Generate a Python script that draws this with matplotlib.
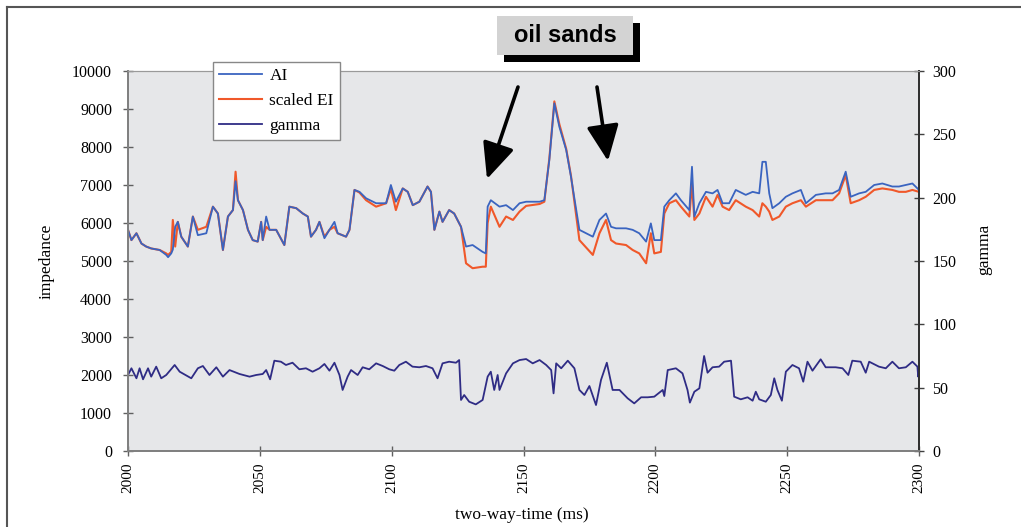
import matplotlib
matplotlib.use("Agg")
import matplotlib.pyplot as plt
from matplotlib.patches import Rectangle
from matplotlib.lines import Line2D

# two-way-time samples (ms) for the impedance curves
t_imp = [2000.0, 2001.3, 2003.2, 2005.1, 2006.9, 2008.8, 2012.0, 2014.5, 2015.2, 2016.4,
         2017.0, 2017.9, 2018.9, 2020.2, 2022.7, 2024.6, 2026.5, 2029.7, 2032.2, 2034.1,
         2036.0, 2037.9, 2039.8, 2040.8, 2041.7, 2043.6, 2045.5, 2047.3, 2049.2, 2050.5,
         2051.1, 2052.4, 2053.7, 2056.2, 2059.3, 2061.2, 2063.8, 2066.3, 2068.2, 2069.4,
         2071.3, 2072.6, 2074.5, 2076.4, 2078.3, 2079.5, 2082.7, 2084.0, 2085.9, 2087.8,
         2090.3, 2094.1, 2097.9, 2099.7, 2101.6, 2104.2, 2106.1, 2108.0, 2110.5, 2113.6,
         2114.9, 2116.2, 2118.1, 2119.3, 2121.8, 2123.7, 2126.3, 2128.2, 2130.7, 2134.5,
         2135.7, 2136.4, 2137.6, 2140.9, 2143.4, 2146.0, 2148.5, 2151.0, 2156.1, 2157.9,
         2159.8, 2161.7, 2163.6, 2166.2, 2168.0, 2171.2, 2176.3, 2178.8, 2181.3, 2183.2,
         2185.1, 2188.9, 2191.4, 2193.9, 2196.5, 2198.3, 2199.6, 2202.1, 2203.4, 2205.3,
         2207.8, 2209.7, 2212.9, 2213.9, 2214.8, 2216.7, 2219.2, 2221.7, 2223.6, 2225.5,
         2228.0, 2230.5, 2234.3, 2236.9, 2239.4, 2240.6, 2241.9, 2243.2, 2244.4, 2247.0,
         2249.5, 2252.0, 2255.2, 2257.1, 2260.9, 2264.6, 2267.2, 2269.7, 2272.2, 2274.1,
         2277.3, 2279.8, 2283.0, 2286.1, 2289.9, 2292.4, 2295.0, 2297.5, 2300.0]

ai = [5820, 5550, 5730, 5460, 5380, 5330, 5290, 5160, 5100, 5200,
      5300, 5900, 6030, 5640, 5380, 6170, 5680, 5730, 6430, 6250,
      5290, 6170, 6340, 7100, 6600, 6340, 5820, 5550, 5510, 6030,
      5550, 6170, 5820, 5820, 5420, 6430, 6390, 6250, 6170, 5640,
      5820, 6030, 5600, 5820, 6030, 5730, 5640, 5820, 6870, 6820,
      6650, 6520, 6520, 7000, 6560, 6910, 6820, 6470, 6560, 6960,
      6820, 5820, 6300, 6030, 6340, 6250, 5900, 5380, 5420, 5240,
      5200, 6430, 6600, 6430, 6470, 6340, 6520, 6560, 6560, 6600,
      7660, 9150, 8530, 7920, 7220, 5820, 5640, 6080, 6250, 5900,
      5860, 5860, 5820, 5730, 5510, 5990, 5550, 5550, 6430, 6600,
      6780, 6600, 6340, 7480, 6170, 6520, 6820, 6780, 6870, 6520,
      6520, 6870, 6740, 6820, 6780, 7610, 7610, 6780, 6390, 6520,
      6690, 6780, 6870, 6520, 6740, 6780, 6780, 6870, 7350, 6690,
      6780, 6820, 7000, 7040, 6960, 6960, 7000, 7040, 6870]

scaled_ei = [5820, 5550, 5730, 5460, 5380, 5330, 5290, 5200, 5160, 5240,
             6080, 5380, 6030, 5640, 5380, 6170, 5820, 5900, 6430, 6250,
             5290, 6170, 6340, 7350, 6600, 6340, 5820, 5550, 5510, 6030,
             5550, 5900, 5820, 5820, 5420, 6430, 6390, 6250, 6170, 5640,
             5820, 6030, 5640, 5820, 5900, 5730, 5640, 5820, 6870, 6800,
             6600, 6430, 6520, 6900, 6340, 6910, 6820, 6470, 6560, 6960,
             6820, 5820, 6300, 6030, 6340, 6250, 5900, 4940, 4810, 4850,
             4850, 6000, 6430, 5900, 6170, 6080, 6300, 6450, 6500, 6560,
             7700, 9200, 8600, 7950, 7250, 5550, 5160, 5730, 6080, 5550,
             5460, 5420, 5290, 5200, 4940, 5730, 5200, 5240, 6250, 6520,
             6600, 6430, 6170, 7040, 6080, 6250, 6690, 6430, 6740, 6430,
             6340, 6600, 6430, 6340, 6170, 6520, 6430, 6300, 6080, 6170,
             6430, 6520, 6600, 6430, 6600, 6600, 6600, 6780, 7260, 6520,
             6600, 6690, 6870, 6910, 6870, 6820, 6820, 6870, 6820]

# gamma log (right axis)
t_gam = [2000.0, 2001.3, 2003.2, 2004.4, 2005.7, 2007.6, 2008.8, 2010.7, 2012.6, 2014.5,
         2017.7, 2019.6, 2024.0, 2026.5, 2028.4, 2030.9, 2033.5, 2036.0, 2038.5, 2042.3,
         2046.1, 2048.6, 2051.1, 2052.4, 2053.9, 2055.5, 2058.0, 2059.9, 2062.4, 2065.0,
         2067.5, 2070.0, 2072.6, 2074.5, 2076.4, 2078.3, 2080.2, 2081.4, 2083.3, 2084.6,
         2087.1, 2089.0, 2091.5, 2094.1, 2096.6, 2099.1, 2101.0, 2102.9, 2105.4, 2107.9,
         2110.5, 2113.0, 2115.5, 2117.4, 2119.3, 2121.8, 2124.4, 2125.6, 2126.3, 2127.5,
         2129.4, 2131.9, 2134.5, 2136.4, 2137.6, 2138.9, 2140.2, 2140.9, 2143.4, 2146.0,
         2148.5, 2151.0, 2153.5, 2156.1, 2158.6, 2160.5, 2161.4, 2162.4, 2164.3, 2166.8,
         2169.3, 2171.2, 2173.1, 2175.0, 2177.5, 2179.4, 2181.6, 2183.8, 2186.4, 2189.5,
         2192.0, 2194.6, 2197.1, 2199.6, 2202.8, 2203.4, 2204.7, 2207.8, 2210.3, 2212.2,
         2213.1, 2214.8, 2216.7, 2218.5, 2219.8, 2221.7, 2224.2, 2226.1, 2228.7, 2229.9,
         2232.4, 2235.0, 2236.9, 2238.1, 2239.4, 2241.9, 2243.8, 2245.1, 2246.3, 2248.0,
         2249.5, 2252.0, 2254.5, 2256.1, 2257.7, 2259.6, 2262.7, 2264.6, 2268.4, 2271.0,
         2273.2, 2274.7, 2277.9, 2279.8, 2281.1, 2284.8, 2287.4, 2289.9, 2292.4, 2295.0,
         2297.5, 2299.4, 2299.7, 2300.0]

gamma = [60.0, 65.3, 57.4, 65.3, 56.6, 65.3, 58.7, 66.6, 57.4, 60.0,
         67.9, 62.6, 57.4, 65.3, 67.1, 60.0, 66.1, 58.7, 63.9, 60.8,
         58.7, 60.0, 60.8, 63.9, 56.6, 71.3, 70.5, 67.9, 69.7, 64.5,
         65.3, 62.6, 65.3, 68.7, 63.4, 69.7, 60.0, 48.2, 58.7, 63.9,
         60.0, 66.1, 64.5, 69.2, 67.1, 64.5, 63.4, 67.9, 70.5, 66.6,
         66.1, 67.1, 65.3, 57.4, 69.2, 70.5, 69.7, 71.8, 40.3, 44.2,
         38.9, 36.8, 40.3, 58.7, 62.6, 48.2, 60.0, 48.2, 61.3, 69.2,
         71.8, 72.6, 69.2, 71.8, 67.9, 63.9, 45.5, 69.2, 65.3, 71.3,
         65.3, 48.2, 44.2, 51.3, 36.3, 56.1, 69.7, 48.2, 48.2, 41.6,
         37.6, 42.4, 42.4, 42.9, 48.2, 43.4, 63.9, 65.3, 61.3, 48.2,
         38.2, 46.8, 49.5, 75.0, 61.8, 66.1, 66.6, 70.5, 71.3, 42.9,
         40.8, 42.4, 39.7, 46.8, 40.8, 38.9, 44.2, 57.4, 48.2, 39.7,
         62.6, 67.9, 65.3, 54.7, 70.5, 63.4, 72.4, 66.1, 66.1, 65.3,
         60.0, 71.3, 70.5, 61.8, 70.5, 66.6, 65.3, 70.5, 65.3, 66.1,
         70.5, 66.6, 58.7, 63.9]

x_ticks = [2000, 2050, 2100, 2150, 2200, 2250, 2300]
imp_ticks = list(range(0, 10001, 1000))
gam_ticks = list(range(0, 301, 50))

c_ai = "#3a64c0"
c_ei = "#f0582a"
c_gam = "#2f2c85"
serif = "Liberation Serif"

fig = plt.figure(figsize=(10.21, 5.27), dpi=100)
ax = fig.add_axes([128 / 1021, 1 - 451 / 527, 791 / 1021, 380 / 527])
ax.set_facecolor("#e6e7e9")

l_ai, = ax.plot(t_imp, ai, color=c_ai, lw=1.3, label="AI", zorder=3)
l_ei, = ax.plot(t_imp, scaled_ei, color=c_ei, lw=1.5, label="scaled EI", zorder=2)
ax.set_xlim(2000, 2300)
ax.set_ylim(0, 10000)
ax.set_xticks(x_ticks)
ax.set_yticks(imp_ticks)
ax.set_xticklabels([str(v) for v in x_ticks], rotation=90, family=serif, fontsize=11)
ax.set_yticklabels([str(v) for v in imp_ticks], family=serif, fontsize=11.5)
ax.tick_params(axis="both", direction="inout", length=7, width=1, color="#606060")
ax.tick_params(axis="y", pad=8)
ax.tick_params(axis="x", pad=5)

ax2 = ax.twinx()
l_gam, = ax2.plot(t_gam, gamma, color=c_gam, lw=1.3, label="gamma")
ax2.set_ylim(0, 300)
ax2.set_yticks(gam_ticks)
ax2.set_yticklabels([str(v) for v in gam_ticks], family=serif, fontsize=11.5)
ax2.tick_params(axis="y", direction="inout", length=7, width=1, color="#404040", pad=6)

for a in (ax, ax2):
    a.spines["left"].set_color("#808080")
    a.spines["bottom"].set_color("#808080")
    a.spines["top"].set_color("#9a9a9a")
    a.spines["right"].set_color("#303030")
    a.spines["left"].set_linewidth(1.3)
    a.spines["bottom"].set_linewidth(1.3)
    a.spines["right"].set_linewidth(1.3)

ax.set_ylabel("impedance", family=serif, fontsize=12.5)
ax.yaxis.set_label_coords(-0.093, 0.5)
ax2.set_ylabel("gamma", family=serif, fontsize=12.5, rotation=90)
ax2.yaxis.set_label_coords(1.073, 0.53)
ax.set_xlabel("two-way-time (ms)", family=serif, fontsize=12.5)
ax.xaxis.set_label_coords(0.498, -0.147)

leg = fig.legend(handles=[l_ai, l_ei, l_gam], loc="upper left",
                 bbox_to_anchor=(213 / 1021, 1 - 62 / 527),
                 prop={"family": serif, "size": 12.5}, fancybox=False, framealpha=1,
                 edgecolor="#888888", handlelength=2.5, handletextpad=0.4,
                 labelspacing=0.5, borderpad=0.35, borderaxespad=0)
leg.get_frame().set_linewidth(1.0)
leg.set_zorder(10)

# "oil sands" label box with drop shadow
bx, by, bw, bh = 497 / 1021, 1 - 55 / 527, 136 / 1021, 39 / 527
fig.patches.append(Rectangle((bx + 7 / 1021, by - 7 / 527), bw, bh, transform=fig.transFigure,
                             facecolor="black", edgecolor="none", zorder=5))
fig.patches.append(Rectangle((bx, by), bw, bh, transform=fig.transFigure,
                             facecolor="#d3d3d3", edgecolor="none", zorder=6))
fig.text(565 / 1021, 1 - 36 / 527, "oil sands", ha="center", va="center",
         family="Liberation Sans", fontweight="bold", fontsize=17, zorder=7)

# arrows pointing at the oil sands intervals
for (x0, y0), (x1, y1) in [((518, 87), (487, 179)), ((597, 87), (608, 161))]:
    fig.add_artist(plt.Annotation("", xy=(x1 / 1021, 1 - y1 / 527), xycoords="figure fraction",
                                  xytext=(x0 / 1021, 1 - y0 / 527), textcoords="figure fraction",
                                  arrowprops=dict(arrowstyle="-|>,head_length=1.0,head_width=0.45",
                                                  color="black", lw=2.6, mutation_scale=22,
                                                  shrinkA=0, shrinkB=0)))

# outer frame of the figure
fig.add_artist(Line2D([7 / 1021, 1.0], [1 - 7 / 527, 1 - 7 / 527], transform=fig.transFigure,
                      color="#555555", lw=1.5))
fig.add_artist(Line2D([7 / 1021, 7 / 1021], [0.0, 1 - 7 / 527], transform=fig.transFigure,
                      color="#555555", lw=1.5))

fig.savefig("out.png", dpi=100)
